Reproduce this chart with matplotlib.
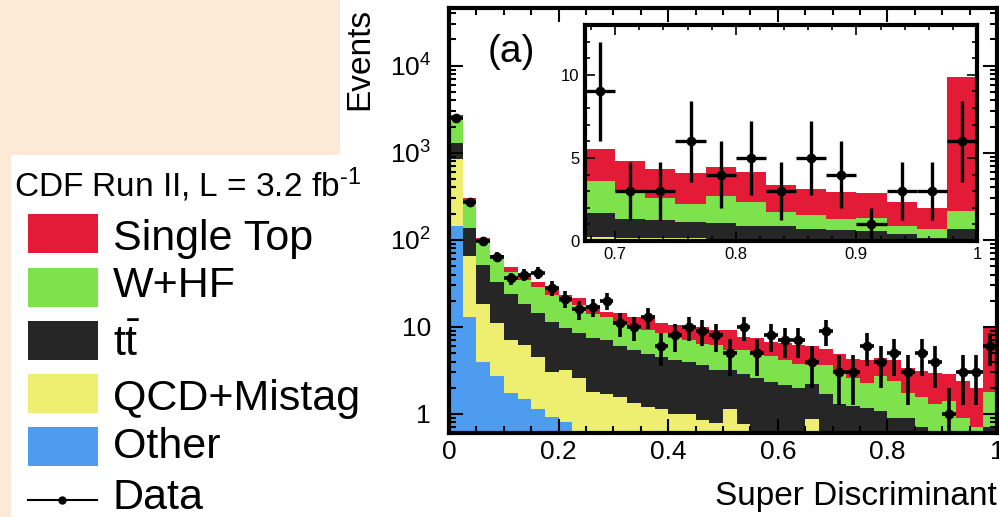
import numpy as np
import matplotlib
matplotlib.use("Agg")
import matplotlib.pyplot as plt
from matplotlib.patches import Rectangle
from matplotlib.ticker import FixedLocator, FixedFormatter, LogLocator, MultipleLocator, NullFormatter

plt.rcParams['font.family'] = ['Liberation Sans', 'DejaVu Sans']
plt.rcParams['mathtext.fontset'] = 'custom'
plt.rcParams['mathtext.rm'] = 'Liberation Sans'
plt.rcParams['mathtext.it'] = 'Liberation Sans:italic'
plt.rcParams['mathtext.bf'] = 'Liberation Sans:bold'

# ---------------- data ----------------
bin_edges = np.round(np.arange(41) * 0.025, 4)

data_counts = [2500, 275, 98, 64, 36, 40, 42, 28, 21, 16, 17, 20, 11, 10, 13, 6, 8, 10, 9, 8,
               5, 10, 5, 8, 7, 7, 4, 9, 3, 3, 6, 4, 5, 3, 5, 4, 1, 3, 3, 6]

other = [145, 12.9, 4.0, 2.7, 1.75, 1.5, 1.15, 0.92, 0.8] + [0.1] * 23 + [0.08] * 8

qcd_mistag = [705, 53.1, 14.2, 8.3, 5.25, 4.7, 3.35, 2.08, 2.4, 2.5, 1.7, 1.6, 1.45, 1.25, 1.1,
              1.05, 0.9, 0.9, 0.75, 0.68, 1.03, 0.67, 0.2, 0.2, 0.2, 0.2, 0.77, 0.14, 0.08, 0.08,
              0.1, 0.05, 0.04, 0.04, 0.04, 0.04, 0.04, 0.04, 0.04, 0.04]

ttbar = [460, 72, 33.4, 22, 17, 12.2, 9.9, 8.5, 6.6, 6.0, 5.6, 5.3, 4.55, 4.05, 3.7, 3.35, 3.2,
         2.95, 2.81, 2.42, 2.07, 2.13, 2.3, 2.05, 1.85, 1.7, 1.33, 1.47, 1.13, 1.07, 0.97, 0.94,
         0.78, 0.78, 0.58, 0.52, 0.48, 0.28, 0.08, 0.58]

w_hf = [1310, 150, 50.4, 32.5, 19, 16.6, 14.6, 11.8, 9.7, 9.3, 6.6, 6.1, 5.4, 4.7, 4.3, 4.0, 3.2,
        3.15, 2.74, 3.0, 2.2, 2.5, 2.2, 2.25, 2.05, 1.8, 1.46, 1.91, 1.61, 1.33, 1.08, 1.63, 1.47,
        0.85, 0.87, 0.67, 0.81, 0.5, 0.5, 1.11]

single_top = [115, 13, 2.6, 1.8, 6, 3, 4, 4.5, 3.8, 3.5, 2.5, 1.9, 2.9, 3.0, 3.4, 2.5, 3.1, 3.2,
              3.5, 3.0, 3.8, 2.2, 2.6, 2.2, 2.3, 2.4, 2.34, 1.91, 1.91, 1.75, 1.87, 1.71, 1.8,
              1.61, 1.55, 1.61, 1.45, 1.47, 1.27, 8.05]

process_labels = ["Single Top", "W+HF", r"t$\bar{\mathrm{t}}$", "QCD+Mistag", "Other"]
process_colors = ["#e31b37", "#7de24c", "#262626", "#eeee70", "#4d9cf0"]
legend_title = r"CDF Run II, L = 3.2 fb$^{\text{-1}}$"

inset_first_bin = 27

# ---------------- figure ----------------
W, H = 999, 517
fig = plt.figure(figsize=(W / 100, H / 100), dpi=100)
fig.patch.set_facecolor("white")


def frac(x0, x1, y0, y1):
    return [x0 / W, 1 - y1 / H, (x1 - x0) / W, (y1 - y0) / H]


ov = fig.add_axes([0, 0, 1, 1])
ov.set_xlim(0, W)
ov.set_ylim(H, 0)
ov.axis("off")
ov.set_zorder(0)

beige = "#fdead6"
ov.add_patch(Rectangle((0, 0), 340, 155, color=beige, lw=0))
ov.add_patch(Rectangle((0, 155), 11, H - 155, color=beige, lw=0))

# legend
ov.text(14, 197, legend_title, fontsize=24, va="baseline", ha="left")
box_tops = [214, 268, 321, 374, 427]
text_base = [250, 297, 356, 410, 458]
for lab, col, bt, tb in zip(process_labels, process_colors, box_tops, text_base):
    ov.add_patch(Rectangle((28, bt), 70, 39, color=col, lw=0))
    ov.text(113, tb, lab, fontsize=31, va="baseline", ha="left")
ov.plot([28, 97], [500, 500], color="black", lw=1.5)
ov.plot([62], [500], "o", color="black", ms=5)
ov.text(113, 509, "Data", fontsize=31, va="baseline", ha="left")

# axis titles
ov.text(360, 8, "Events", fontsize=24, rotation=90, ha="center", va="top")
ov.text(997, 497, "Super Discriminant", fontsize=24, ha="right", va="center")

# ---------------- main axes ----------------
ax = fig.add_axes(frac(449, 997, 8, 433))
ax.set_zorder(1)
counts = np.array(data_counts, dtype=float)
comps = np.array([other, qcd_mistag, ttbar, w_hf, single_top], dtype=float)
cum = np.cumsum(comps, axis=0)
stack_colors = process_colors[::-1]  # bottom -> top: Other, QCD, tt, W+HF, single top

ymin, ymax = 0.605, 4.6e4
floor = ymin * 1.05
for k in range(4, -1, -1):
    ax.stairs(np.maximum(cum[k], floor), bin_edges, baseline=1e-3, fill=True,
              color=stack_colors[k], lw=0)

centers = 0.5 * (bin_edges[:-1] + bin_edges[1:])
half = 0.5 * np.diff(bin_edges)
ax.errorbar(centers, counts, yerr=np.sqrt(counts), xerr=half, fmt="o", color="black",
            ms=6, elinewidth=2.6, capsize=0, zorder=5)

ax.set_yscale("log")
ax.set_xlim(0, 1)
ax.set_ylim(ymin, ymax)
ax.yaxis.set_major_locator(FixedLocator([1, 10, 100, 1000, 10000]))
ax.yaxis.set_major_formatter(FixedFormatter(["1", "10", "$10^{2}$", "$10^{3}$", "$10^{4}$"]))
ax.yaxis.set_minor_locator(LogLocator(base=10, subs=np.arange(2, 10)))
ax.yaxis.set_minor_formatter(NullFormatter())
ax.xaxis.set_major_locator(FixedLocator([0, 0.2, 0.4, 0.6, 0.8, 1.0]))
ax.xaxis.set_major_formatter(FixedFormatter(["0", "0.2", "0.4", "0.6", "0.8", "1"]))
ax.xaxis.set_minor_locator(MultipleLocator(0.05))
ax.tick_params(which="both", direction="in", top=True, right=True, width=1.5)
ax.tick_params(which="major", length=10)
ax.tick_params(which="minor", length=5)
ax.tick_params(axis="x", labelsize=19, pad=5)
ax.tick_params(axis="y", labelsize=19, pad=13)
for sp in ax.spines.values():
    sp.set_linewidth(3)

# ---------------- inset ----------------
ins = fig.add_axes(frac(585, 977, 25, 241))
ins.set_zorder(2)
ins.set_facecolor("white")
sl = slice(inset_first_bin, None)
ie = bin_edges[inset_first_bin:]
for k in range(4, -1, -1):
    ins.stairs(cum[k][sl], ie, baseline=0, fill=True, color=stack_colors[k], lw=0)
ins.errorbar(centers[sl], counts[sl], yerr=np.sqrt(counts[sl]), xerr=half[sl], fmt="o",
             color="black", ms=6, elinewidth=2.4, capsize=0, zorder=5)
ins.set_xlim(ie[0], ie[-1])
ins.set_ylim(0, 13)
ins.xaxis.set_major_locator(FixedLocator([0.7, 0.8, 0.9, 1.0]))
ins.xaxis.set_major_formatter(FixedFormatter(["0.7", "0.8", "0.9", "1"]))
ins.xaxis.set_minor_locator(MultipleLocator(0.02))
ins.yaxis.set_major_locator(FixedLocator([0, 5, 10]))
ins.yaxis.set_major_formatter(FixedFormatter(["0", "5", "10"]))
ins.yaxis.set_minor_locator(MultipleLocator(1))
ins.tick_params(which="both", direction="in", top=True, right=True, width=1.2)
ins.tick_params(which="major", length=7)
ins.tick_params(which="minor", length=3.5)
ins.tick_params(axis="both", labelsize=12)
ins.tick_params(axis="x", pad=4)
ins.tick_params(axis="y", pad=4)
for sp in ins.spines.values():
    sp.set_linewidth(3)

# panel label on top of everything
fig.text(488 / W, 1 - 52 / H, "(a)", fontsize=28, ha="left", va="center", zorder=10)

fig.savefig("out.png", dpi=100)
